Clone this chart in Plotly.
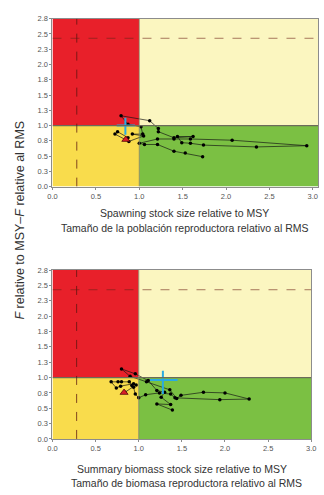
import plotly.graph_objects as go

# ---------------- data ----------------
tick_vals = [0, 0.25, 0.5, 0.75, 1.0, 1.25, 1.5, 1.75, 2.0, 2.25, 2.5, 2.75]
tick_text = ["0.0", "0.3", "0.5", "0.8", "1.0", "1.3", "1.5", "1.8", "2.0", "2.3", "2.5", "2.8"]
x_tick_vals = [0, 0.5, 1.0, 1.5, 2.0, 2.5, 3.0]
x_tick_text = ["0.0", "0.5", "1.0", "1.5", "2.0", "2.5", "3.0"]

top_x = [1.73, 1.53, 1.40, 1.21, 1.06, 1.00, 1.21, 1.40, 1.59, 2.07, 2.93, 2.35, 1.74,
         1.59, 1.49, 1.44, 1.62, 1.40, 1.22, 1.22, 1.12, 0.79, 0.87, 1.02, 1.04, 0.92,
         1.05, 0.88, 0.72, 0.75, 0.87, 0.85]
top_y = [0.49, 0.55, 0.58, 0.69, 0.69, 0.71, 0.78, 0.78, 0.78, 0.76, 0.67, 0.65, 0.68,
         0.71, 0.72, 0.82, 0.82, 0.80, 0.90, 0.95, 1.08, 1.16, 1.02, 0.98, 0.86, 0.86,
         0.83, 0.74, 0.86, 0.90, 0.80, 0.77]
top_last = (0.845, 0.77)
top_cross = dict(x=0.84, y=1.0, x_lo=0.74, x_hi=0.95, y_lo=0.85, y_hi=1.13)

bot_x = [1.39, 1.21, 1.37, 1.26, 1.30, 1.21, 1.11, 0.96, 0.80, 0.90, 1.09, 1.36, 1.44,
         1.49, 1.75, 2.00, 2.28, 1.94, 1.42, 1.37, 1.24, 1.08, 1.00, 0.96, 0.94, 0.92,
         0.89, 0.80, 0.76, 0.68, 0.74, 0.79, 0.94, 0.97, 0.84]
bot_y = [0.47, 0.57, 0.56, 0.68, 0.76, 0.79, 0.95, 1.06, 1.14, 1.02, 0.93, 0.80, 0.66,
         0.71, 0.76, 0.75, 0.65, 0.64, 0.67, 0.73, 0.75, 0.72, 0.67, 0.73, 0.84, 0.87,
         0.93, 0.93, 0.93, 0.93, 0.83, 0.86, 0.90, 0.88, 0.76]
bot_last = (0.83, 0.755)
bot_cross = dict(x=1.28, y=0.96, x_lo=1.13, x_hi=1.45, y_lo=0.73, y_hi=1.11)

F_lim = 2.43
B_lim = 0.28
x_max_top = 3.06
x_max_bot = 3.0
y_max = 2.75

RED = "#E8202A"
LIGHT = "#FBF6C0"
YEL = "#F9DC4C"
GREEN = "#7BC043"
BLUE = "#2AABE2"

fig = go.Figure()


def add_panel(xs, ys, last, cross, xa, ya, xmax):
    xr, yr = xa, ya
    for x0, x1, y0, y1, c in [(0, 1, 1, y_max, RED), (1, xmax, 1, y_max, LIGHT),
                              (0, 1, 0, 1, YEL), (1, xmax, 0, 1, GREEN)]:
        fig.add_shape(type="rect", xref=xr, yref=yr, x0=x0, x1=x1, y0=y0, y1=y1,
                      fillcolor=c, line=dict(width=0), layer="below")
    fig.add_shape(type="line", xref=xr, yref=yr, x0=0, x1=xmax, y0=1, y1=1,
                  line=dict(color="#6b6b5a", width=1.2))
    fig.add_shape(type="line", xref=xr, yref=yr, x0=1, x1=1, y0=0, y1=y_max,
                  line=dict(color="#8a8060", width=0.8))
    fig.add_shape(type="line", xref=xr, yref=yr, x0=0, x1=xmax, y0=F_lim, y1=F_lim,
                  line=dict(color="rgba(110,35,25,0.6)", width=1, dash="dash"))
    fig.add_shape(type="line", xref=xr, yref=yr, x0=B_lim, x1=B_lim, y0=0, y1=y_max,
                  line=dict(color="rgba(90,20,15,0.75)", width=1, dash="dash"))
    axx = "x" if xa == "x" else "x2"
    axy = "y" if ya == "y" else "y2"
    fig.add_trace(go.Scatter(x=xs, y=ys, mode="lines+markers", xaxis=axx, yaxis=axy,
                             line=dict(color="rgba(20,20,20,0.85)", width=0.8),
                             marker=dict(color="black", size=3.5), showlegend=False,
                             hoverinfo="skip"))
    fig.add_trace(go.Scatter(x=[last[0]], y=[last[1]], mode="markers", xaxis=axx, yaxis=axy,
                             marker=dict(symbol="triangle-up", color="#D81E28", size=7,
                                         line=dict(color="#5a0a0a", width=0.8)),
                             showlegend=False, hoverinfo="skip"))
    fig.add_trace(go.Scatter(x=[cross["x_lo"], cross["x_hi"], None, cross["x"], cross["x"]],
                             y=[cross["y"], cross["y"], None, cross["y_lo"], cross["y_hi"]],
                             mode="lines", xaxis=axx, yaxis=axy,
                             line=dict(color=BLUE, width=2), showlegend=False,
                             hoverinfo="skip"))


add_panel(top_x, top_y, top_last, top_cross, "x", "y", x_max_top)
add_panel(bot_x, bot_y, bot_last, bot_cross, "x2", "y2", x_max_bot)

W, H = 324, 495
def px(v):
    return v / W
def py(v):
    return 1 - v / H

tickfont = dict(family="Liberation Sans, Arial", size=7.5, color="#555555")
common_x = dict(tickvals=x_tick_vals, ticktext=x_tick_text, tickfont=tickfont,
                showgrid=False, zeroline=False, showline=True, mirror=True,
                linecolor="#8c8c8c", linewidth=1, ticks="outside", ticklen=2,
                tickcolor="#8c8c8c", fixedrange=True)
common_y = dict(tickvals=tick_vals, ticktext=tick_text, tickfont=tickfont,
                showgrid=False, zeroline=False, showline=True, mirror=True,
                linecolor="#8c8c8c", linewidth=1, ticks="outside", ticklen=2,
                tickcolor="#8c8c8c", range=[0, y_max], fixedrange=True)

fig.update_layout(
    width=W, height=H, margin=dict(l=0, r=0, t=0, b=0),
    paper_bgcolor="white", plot_bgcolor="white",
    xaxis=dict(common_x, domain=[px(49), px(323)], range=[0, x_max_top], anchor="y"),
    yaxis=dict(common_y, domain=[py(186), py(15)], anchor="x"),
    xaxis2=dict(common_x, domain=[px(49), px(316)], range=[0, x_max_bot], anchor="y2"),
    yaxis2=dict(common_y, domain=[py(443), py(271)], anchor="x2"),
)

title_font = dict(family="Liberation Sans, Arial", size=10.5, color="#333333")
ann = [
    ("Spawning stock size relative to MSY", 185, 213),
    ("Tamaño de la población reproductora relativo al RMS", 185, 228),
    ("Summary biomass stock size relative to MSY", 183, 474),
    ("Tamaño de biomasa reproductora relativo al RMS", 187, 488),
]
for t, x, y in ann:
    fig.add_annotation(text=t, x=px(x), y=py(y), xref="paper", yref="paper",
                       showarrow=False, font=title_font, xanchor="center", yanchor="middle")

fig.add_annotation(text="<i>F</i> relative to MSY\u2013<i>F</i> relative al RMS",
                   x=px(15), y=py(220), xref="paper", yref="paper", textangle=-90,
                   showarrow=False, font=dict(family="Liberation Sans, Arial", size=12.5,
                                              color="#333333"),
                   xanchor="center", yanchor="middle")

fig.write_html("out.html", config={"displayModeBar": False},
               post_script="document.body.style.margin='0';document.body.style.overflow='hidden';")
